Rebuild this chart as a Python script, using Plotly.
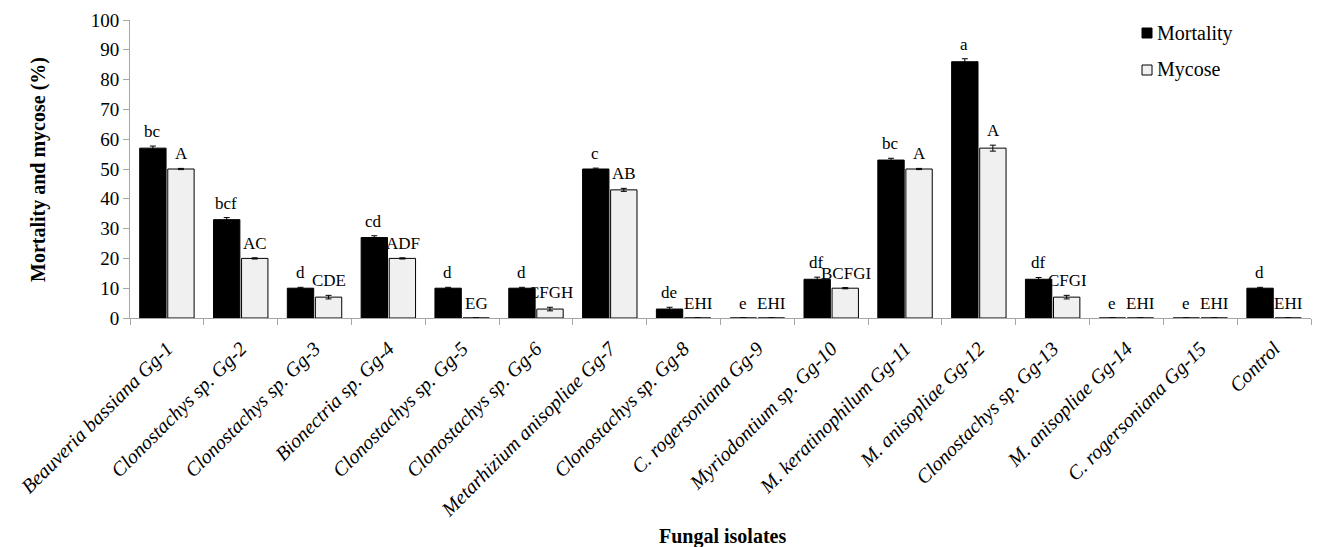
import plotly.graph_objects as go

categories = ["Beauveria bassiana Gg-1", "Clonostachys sp. Gg-2", "Clonostachys sp. Gg-3",
              "Bionectria sp. Gg-4", "Clonostachys sp. Gg-5", "Clonostachys sp. Gg-6",
              "Metarhizium anisopliae Gg-7", "Clonostachys sp. Gg-8", "C. rogersoniana Gg-9",
              "Myriodontium sp. Gg-10", "M. keratinophilum Gg-11", "M. anisopliae Gg-12",
              "Clonostachys sp. Gg-13", "M. anisopliae Gg-14", "C. rogersoniana Gg-15", "Control"]
mortality = [57, 33, 10, 27, 10, 10, 50, 3, 0, 13, 53, 86, 13, 0, 0, 10]
mortality_err = [0.7, 0.7, 0.3, 0.6, 0.3, 0.3, 0.3, 0.6, 0, 0.7, 0.6, 1.0, 0.6, 0, 0, 0.3]
mycose = [50, 20, 7, 20, 0, 3, 43, 0, 0, 10, 50, 57, 7, 0, 0, 0]
mycose_err = [0.2, 0.2, 0.6, 0.2, 0, 0.6, 0.5, 0, 0, 0.2, 0.2, 1.0, 0.6, 0, 0, 0]
mortality_letters = ["bc", "bcf", "d", "cd", "d", "d", "c", "de", "e", "df", "bc", "a", "df", "e", "e", "d"]
mycose_letters = ["A", "AC", "CDE", "ADF", "EG", "CFGH", "AB", "EHI", "EHI", "BCFGI", "A", "A",
                  "CFGI", "EHI", "EHI", "EHI"]
series_names = ["Mortality", "Mycose"]
series_colors = ["#000000", "#eff0ef"]

FONT = "Liberation Serif"
OFF = 8  # page body margin offset
W, H = 1320 - OFF, 547 - OFF
L, R, T, B = 130 - OFF, 9, 20 - OFF, 229
PW, PH = W - L - R, H - T - B


def px_x(px):
    # page pixel -> paper coordinate
    return (px - OFF - L) / PW


def px_y(py):
    return (H - B - (py - OFF)) / PH


ticktext = ["<i>%s</i>" % c for c in categories]

fig = go.Figure()
fig.add_trace(go.Bar(
    name=series_names[0], x=categories, y=mortality,
    marker=dict(color=series_colors[0], line=dict(color="#000000", width=1)),
    error_y=dict(type="data", array=mortality_err, color="#000000", thickness=1, width=3),
))
fig.add_trace(go.Bar(
    name=series_names[1], x=categories, y=mycose,
    marker=dict(color=series_colors[1], line=dict(color="#000000", width=1)),
    error_y=dict(type="data", array=mycose_err, color="#000000", thickness=1, width=3),
))

annotations = []
for i, c in enumerate(categories):
    annotations.append(dict(x=c, y=mortality[i] + mortality_err[i], text=mortality_letters[i],
                            xref="x", yref="y", showarrow=False, yanchor="bottom",
                            xshift=-14.5, yshift=3, font=dict(family=FONT, size=17, color="#000")))
    annotations.append(dict(x=c, y=mycose[i] + mycose_err[i], text=mycose_letters[i],
                            xref="x", yref="y", showarrow=False, yanchor="bottom",
                            xshift=14.5, yshift=3, font=dict(family=FONT, size=17, color="#000")))

# axis titles
annotations.append(dict(x=px_x(722), y=px_y(536), xref="paper", yref="paper",
                        xanchor="center", yanchor="middle",
                        text="<b>Fungal isolates</b>", showarrow=False,
                        font=dict(family=FONT, size=20, color="#000")))
annotations.append(dict(x=px_x(38), y=px_y(170), xref="paper", yref="paper",
                        xanchor="center", yanchor="middle",
                        text="<b>Mortality and mycose (%)</b>", showarrow=False, textangle=-90,
                        font=dict(family=FONT, size=20, color="#000")))

# manual legend
shapes = []
legend_rows = [33, 70]
for name, col, yc in zip(series_names, series_colors, legend_rows):
    shapes.append(dict(type="rect", xref="paper", yref="paper",
                       x0=px_x(1142), x1=px_x(1152), y0=px_y(yc + 5), y1=px_y(yc - 5),
                       fillcolor=col, line=dict(color="#000000", width=1)))
    annotations.append(dict(x=px_x(1155), y=px_y(yc), xref="paper", yref="paper", text=name,
                            showarrow=False, xanchor="left", yanchor="middle",
                            font=dict(family=FONT, size=20, color="#000")))

fig.update_layout(
    width=W, height=H,
    margin=dict(l=L, r=R, t=T, b=B),
    paper_bgcolor="white", plot_bgcolor="white",
    barmode="group", bargap=0.24, bargroupgap=0.06,
    font=dict(family=FONT, size=16, color="#000"),
    showlegend=False,
    xaxis=dict(tickvals=categories, ticktext=ticktext, tickangle=-45, automargin=False,
               showline=True, linecolor="#a6a6a6", linewidth=1,
               ticks="outside", tickcolor="#a6a6a6", ticklen=6, tickson="boundaries",
               ticklabelstandoff=10,
               tickfont=dict(family=FONT, size=20, color="#000"), showgrid=False),
    yaxis=dict(range=[0, 100], dtick=10, automargin=False, showline=True, linecolor="#a6a6a6",
               linewidth=1, ticks="outside", tickcolor="#a6a6a6", ticklen=6, showgrid=False,
               zeroline=False, tickfont=dict(family=FONT, size=19, color="#000")),
    annotations=annotations,
    shapes=shapes,
)

fig.write_html("out.html")
